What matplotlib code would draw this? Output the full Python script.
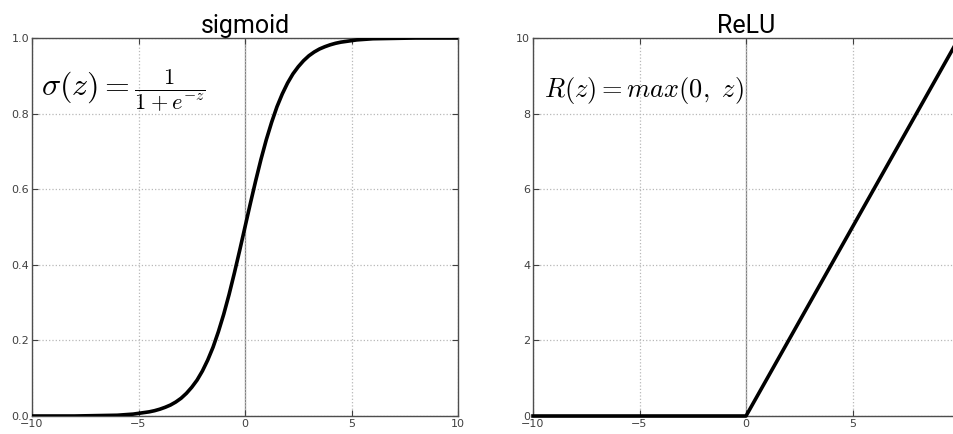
import numpy as np
import matplotlib
matplotlib.use("Agg")
import matplotlib.pyplot as plt

plt.rcParams['mathtext.fontset'] = 'cm'
plt.rcParams['font.family'] = ['DejaVu Sans']

# valeurs
sig_z = [-10, -8, -7, -6, -5.75, -5.5, -5.25, -5, -4.75, -4.5, -4.25, -4,
         -3.75, -3.5, -3.25, -3, -2.75, -2.5, -2.25, -2, -1.75, -1.5, -1.25,
         -1, -0.75, -0.5, -0.25, 0, 0.25, 0.5, 0.75, 1, 1.25, 1.5, 1.75, 2,
         2.25, 2.5, 2.75, 3, 3.25, 3.5, 3.75, 4, 4.25, 4.5, 4.75, 5, 5.25,
         5.5, 5.75, 6, 7, 8, 10]
sig_y = [0.0, 0.0, 0.001, 0.002, 0.003, 0.004, 0.005, 0.007, 0.009, 0.011,
         0.014, 0.018, 0.023, 0.029, 0.037, 0.047, 0.060, 0.076, 0.095, 0.119,
         0.148, 0.182, 0.223, 0.269, 0.321, 0.378, 0.438, 0.5, 0.562, 0.622,
         0.679, 0.731, 0.777, 0.818, 0.852, 0.881, 0.905, 0.924, 0.940, 0.953,
         0.963, 0.971, 0.977, 0.982, 0.986, 0.989, 0.991, 0.993, 0.995, 0.996,
         0.997, 0.998, 0.999, 1.0, 1.0]
relu_z = [-10, 0, 10]
relu_y = [0, 0, 10]

x_ticks = [-10, -5, 0, 5, 10]
sig_yticks = [0.0, 0.2, 0.4, 0.6, 0.8, 1.0]
relu_yticks = [0, 2, 4, 6, 8, 10]

W, H = 954, 434
fig = plt.figure(figsize=(W / 100, H / 100), dpi=100)

def make_ax(left, right):
    return fig.add_axes([left / W, 1 - 416 / H, (right - left) / W, (416 - 38) / H])

def style(ax, yticks, yfmt):
    ax.set_xlim(-10, 10)
    ax.set_xticks(x_ticks)
    ax.set_yticks(yticks)
    ax.set_yticklabels([yfmt.format(v) for v in yticks])
    ax.grid(True, linestyle=':', color='0.72', linewidth=0.9)
    ax.axvline(0, color='0.5', linewidth=0.9, zorder=1)
    ax.tick_params(direction='in', top=True, right=True, labelsize=8,
                   colors='0.25', length=4, pad=2)
    for s in ax.spines.values():
        s.set_color('0.3')
        s.set_linewidth(1.0)

ax1 = make_ax(32, 458)
ax1.plot(sig_z, sig_y, color='black', linewidth=2.6, zorder=3)
ax1.set_ylim(0, 1)
style(ax1, sig_yticks, '{:.1f}')
ax1.set_title('sigmoid', fontsize=18, pad=3.5, family='Roboto')
ax1.text(-9.6, 0.86, r'$\sigma(z)=\frac{1}{1+e^{-z}}$', fontsize=23,
         va='center', ha='left')

ax2 = make_ax(533, 959)
ax2.plot(relu_z, relu_y, color='black', linewidth=2.6, zorder=3, clip_on=False)
ax2.set_ylim(0, 10)
style(ax2, relu_yticks, '{:d}')
ax2.set_title('ReLU', fontsize=18, pad=3.5, family='Roboto')
ax2.text(-9.5, 8.6, r'$R(z)=max(0,\ z)$', fontsize=19, va='center', ha='left')

fig.savefig('out.png', dpi=100)
